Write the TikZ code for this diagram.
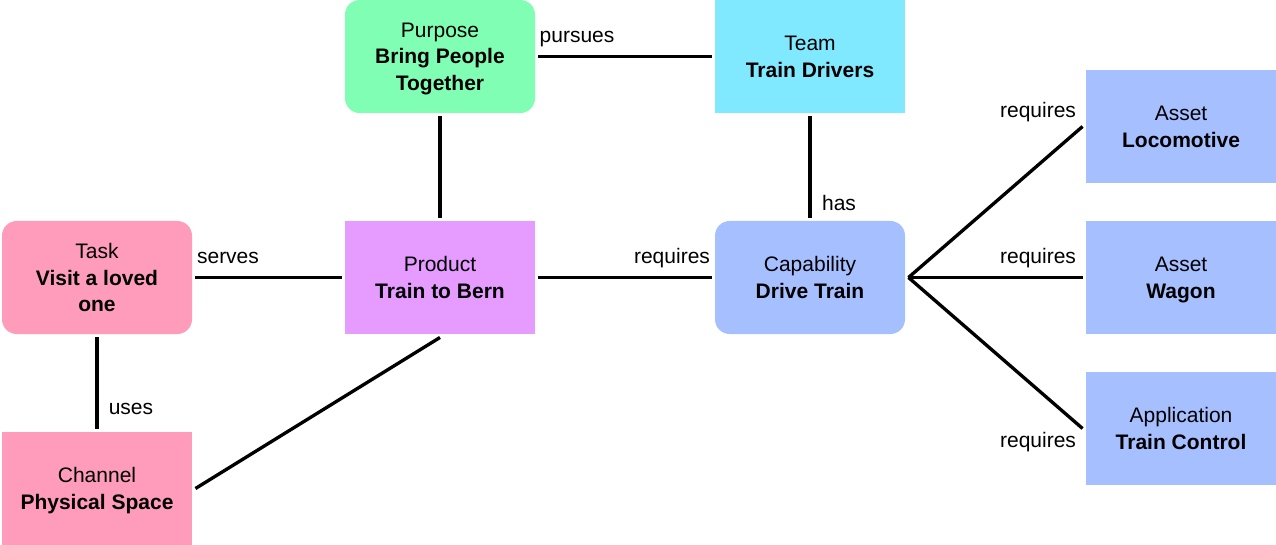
\documentclass[tikz,border=0pt]{standalone}
\usepackage{fontspec}
\setmainfont{Liberation Sans}
\usepackage{xcolor}

\definecolor{purposeGreen}{RGB}{128,255,180}
\definecolor{teamCyan}{RGB}{128,233,255}
\definecolor{taskPink}{RGB}{255,155,187}
\definecolor{productViolet}{RGB}{229,155,255}
\definecolor{capBlue}{RGB}{166,191,255}

% first and last line of a box, struts keep the block centred
\newcommand{\boxhead}[1]{\rule{0pt}{15.25pt}#1}
\newcommand{\boxtail}[1]{\textbf{#1}\rule[-4pt]{0pt}{4pt}}

\begin{document}
\begin{tikzpicture}[x=0.75pt,y=-0.75pt,
  box/.style={minimum width=142.5pt,minimum height=84.75pt,inner sep=0pt,
    outer sep=2.6pt,align=center,font=\fontsize{15.75}{20}\selectfont},
  rbox/.style={box,rounded corners=11pt},
  lbl/.style={font=\fontsize{15.75}{20}\selectfont,inner sep=0pt,anchor=base},
  link/.style={line width=2.5pt}]
\useasboundingbox (0,0) rectangle (1276,545);

% boxes
\node[rbox,fill=purposeGreen] (purpose) at (440,56.5) {\boxhead{Purpose}\\\textbf{Bring People}\\\boxtail{Together}};
\node[box,fill=teamCyan] (team) at (810,56.5) {\boxhead{Team}\\\boxtail{Train Drivers}};
\node[rbox,fill=taskPink] (task) at (97,277.5) {\boxhead{Task}\\\textbf{Visit a loved}\\\boxtail{one}};
\node[box,fill=productViolet] (product) at (440,277.5) {\boxhead{Product}\\\boxtail{Train to Bern}};
\node[rbox,fill=capBlue] (capability) at (810,277.5) {\boxhead{Capability}\\\boxtail{Drive Train}};
\node[box,fill=taskPink] (channel) at (97,488.5) {\boxhead{Channel}\\\boxtail{Physical Space}};
\node[box,fill=capBlue] (loco) at (1181,126.5) {\boxhead{Asset}\\\boxtail{Locomotive}};
\node[box,fill=capBlue] (wagon) at (1181,277.5) {\boxhead{Asset}\\\boxtail{Wagon}};
\node[box,fill=capBlue] (trainctl) at (1181,428.5) {\boxhead{Application}\\\boxtail{Train Control}};

% links
\draw[link] (purpose.east) -- (team.west);
\draw[link] (purpose.south) -- (product.north);
\draw[link] (team.south) -- (capability.north);
\draw[link] (task.east) -- (product.west);
\draw[link] (product.east) -- (capability.west);
\draw[link] (task.south) -- (channel.north);
\draw[link] (product.south) -- (channel.east);
\draw[link] (capability.east) -- (loco.west);
\draw[link] (capability.east) -- (wagon.west);
\draw[link] (capability.east) -- (trainctl.west);

% link labels
\node[lbl] (lPursues) at (577,43) {pursues};
\node[lbl] (lHas) at (839,210) {has};
\node[lbl] (lServes) at (228,263) {serves};
\node[lbl] (lReqProduct) at (672,263) {requires};
\node[lbl] (lUses) at (131,414) {uses};
\node[lbl] (lReqLoco) at (1038,118) {requires};
\node[lbl] (lReqWagon) at (1038,263) {requires};
\node[lbl] (lReqCtl) at (1038,447) {requires};
\end{tikzpicture}
\end{document}
